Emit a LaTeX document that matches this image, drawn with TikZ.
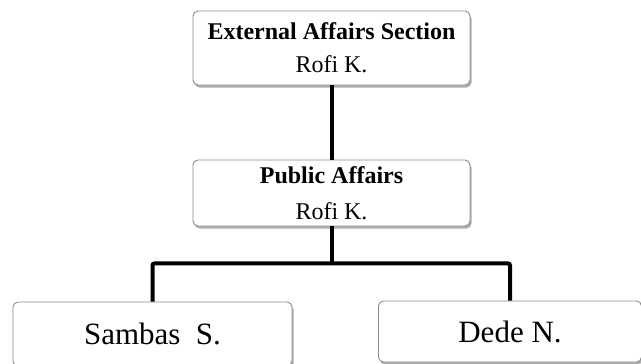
\documentclass[tikz,border=0pt]{standalone}
\usepackage{fontspec}
\setmainfont{Liberation Serif}
\usetikzlibrary{shadows,calc}

\begin{document}
\begin{tikzpicture}[x=1pt,y=1pt,
	box/.style={draw=black!45,line width=0.9pt,rounded corners=5pt,fill=white,
		align=center,inner sep=0pt,
		drop shadow={shadow xshift=1.5pt,shadow yshift=-2.5pt,opacity=0.45,fill=black!70}},
	link/.style={line width=4pt,black}]
	
	% Fix the page
	\useasboundingbox (0,0) rectangle (641,-364);
	
	% Define the boxes
	\node[box,minimum width=277,minimum height=74,font=\fontsize{24}{33}\selectfont] (ext) at (331.5,-48)
		{\textbf{External Affairs Section}\\Rofi K.};
	\node[box,minimum width=277,minimum height=66,font=\fontsize{24}{36}\selectfont] (pub) at (331.5,-193)
		{\textbf{Public Affairs}\\Rofi K.};
	\node[box,minimum width=279,minimum height=64,font=\fontsize{31}{36}\selectfont] (sam) at (152.5,-334)
		{Sambas\ \ S.};
	\node[box,minimum width=263,minimum height=61,font=\fontsize{31}{36}\selectfont] (ded) at (510,-331.5)
		{Dede N.};
	
	% Draw the links
	\draw[link] (ext.south) -- (pub.north);
	\draw[link] (pub.south) -- ++(0,-37) coordinate (fork);
	\draw[link,rounded corners=2pt] (sam.north) -- (sam.north |- fork) -- (ded.north |- fork) -- (ded.north);
	
\end{tikzpicture}
\end{document}
